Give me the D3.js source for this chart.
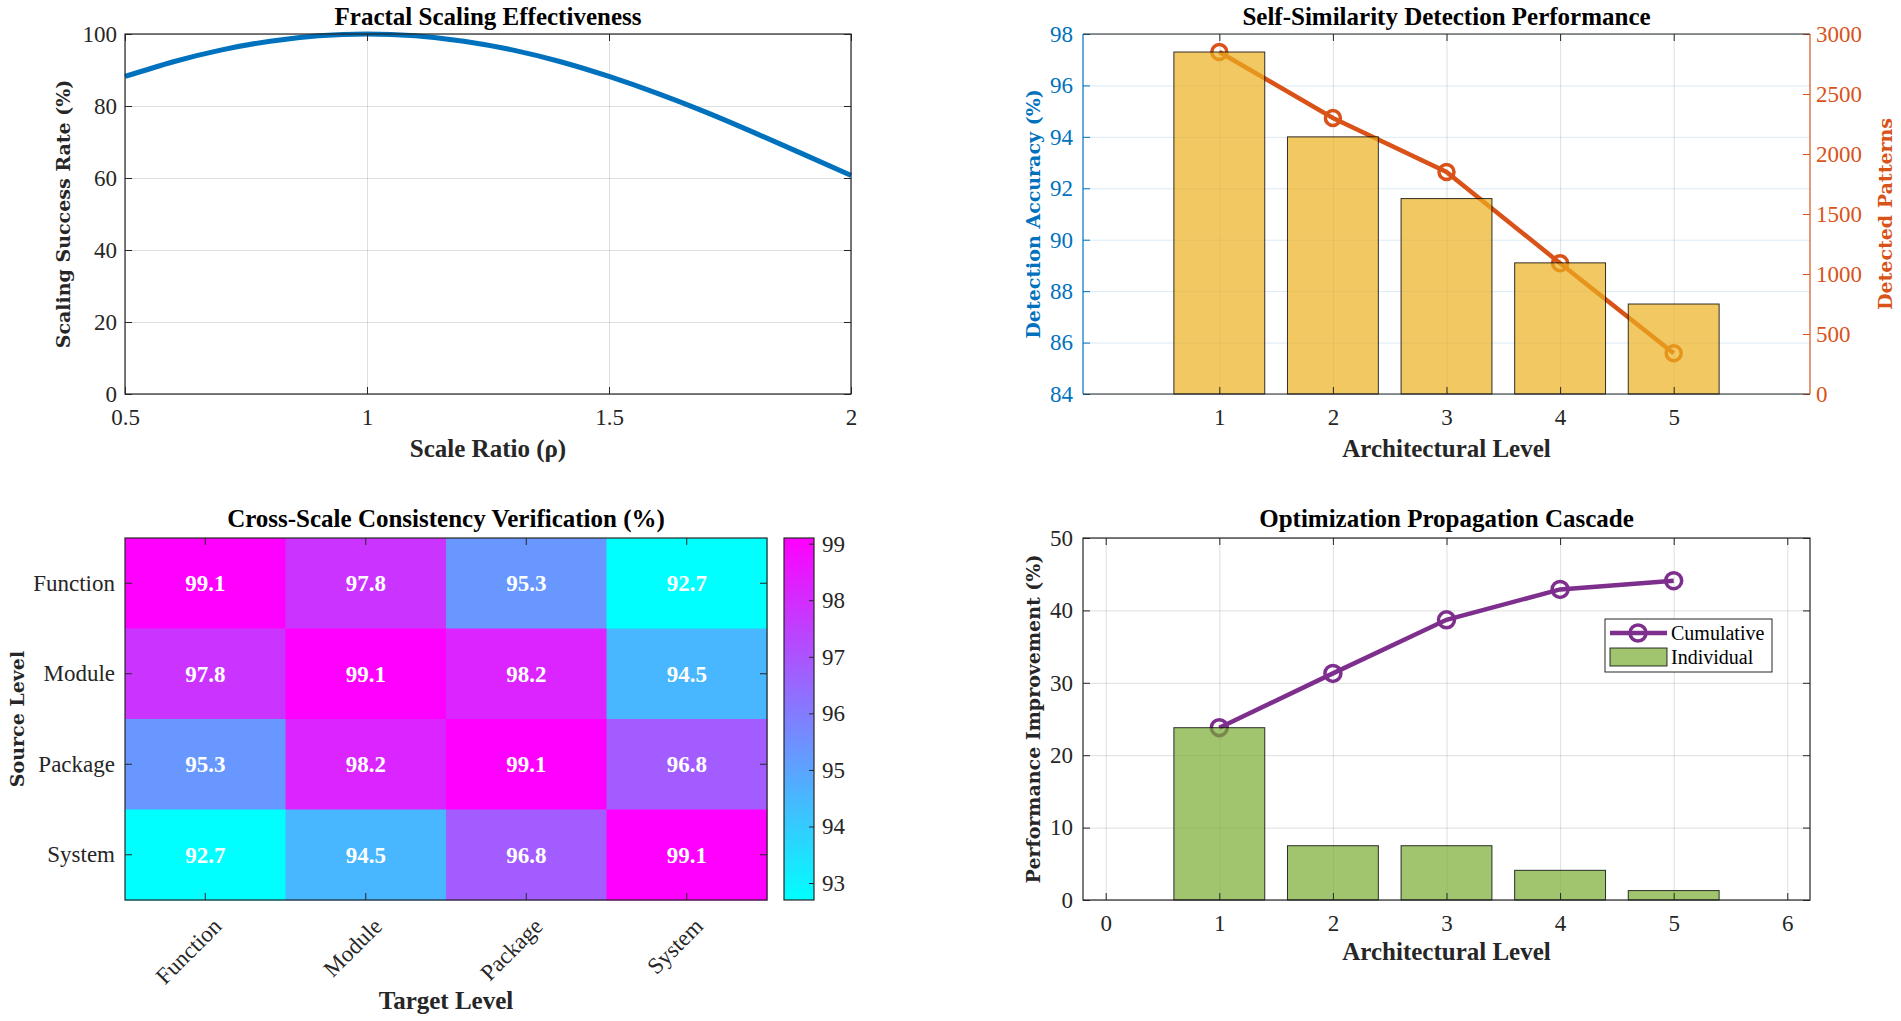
<!DOCTYPE html>
<html>
<head>
<meta charset="utf-8">
<script src="https://cdn.jsdelivr.net/npm/d3@7"></script>
<style>
body { margin: 0; background: #fff; }
</style>
</head>
<body>
<div id="canvas"></div>
<script>
// data
const scaleRatio = [0.5, 0.6, 0.7, 0.8, 0.9, 1.0, 1.1, 1.2, 1.3, 1.4, 1.5, 1.6, 1.7, 1.8, 1.9, 2.0];
const scalingSuccess = [88.2, 92.3, 95.6, 98.0, 99.5, 100, 99.5, 98.0, 95.6, 92.3, 88.2, 83.5, 78.3, 72.6, 66.7, 60.7];
const ratioTicks = [0.5, 1, 1.5, 2];
const successTicks = [0, 20, 40, 60, 80, 100];

const levels = [1, 2, 3, 4, 5];
const detectionAccuracy = [97.3, 94.0, 91.6, 89.1, 87.5];
const detectedPatterns = [2850, 2300, 1850, 1090, 340];
const accuracyTicks = [84, 86, 88, 90, 92, 94, 96, 98];
const patternTicks = [0, 500, 1000, 1500, 2000, 2500, 3000];

const scaleNames = ["Function", "Module", "Package", "System"];
const consistency = [
    [99.1, 97.8, 95.3, 92.7],
    [97.8, 99.1, 98.2, 94.5],
    [95.3, 98.2, 99.1, 96.8],
    [92.7, 94.5, 96.8, 99.1]
];
const colorbarTicks = [93, 94, 95, 96, 97, 98, 99];

const individualGain = [23.8, 7.5, 7.5, 4.1, 1.3];
const cumulativeGain = [23.8, 31.3, 38.7, 42.9, 44.1];
const cascadeXTicks = [0, 1, 2, 3, 4, 5, 6];
const improvementTicks = [0, 10, 20, 30, 40, 50];

const W = 1901, H = 1021;
const axisCol = '#262626';
const serif = 'Liberation Serif, Times New Roman, serif';
const wide = 'DejaVu Serif, serif';

const svg = d3.select('#canvas').append('svg')
    .attr('width', W)
    .attr('height', H)
    .style('background', '#fff');

function cleanAxis(sel, color, showText) {
    sel.attr('font-family', serif).attr('font-size', 23);
    sel.select('.domain').remove();
    sel.selectAll('.tick line').attr('stroke', color);
    sel.selectAll('.tick text').attr('fill', color);
    if (!showText) sel.selectAll('.tick text').remove();
}

function grid(g, p, xs, xt, ys, yt, colX, colY) {
    if (xs) {
        g.append('g').attr('transform', `translate(0,${p.y1})`)
            .call(d3.axisBottom(xs).tickValues(xt).tickSize(-p.h).tickFormat(''))
            .call(s => { s.select('.domain').remove(); s.selectAll('line').attr('stroke', colX).attr('stroke-opacity', 0.15); });
    }
    if (ys) {
        g.append('g').attr('transform', `translate(${p.x0},0)`)
            .call(d3.axisLeft(ys).tickValues(yt).tickSize(-p.w).tickFormat(''))
            .call(s => { s.select('.domain').remove(); s.selectAll('line').attr('stroke', colY).attr('stroke-opacity', 0.15); });
    }
}

function frameAxes(g, p, xs, xt, ys, yt, xFmt, yFmt, xPad, yPad) {
    g.append('g').attr('transform', `translate(0,${p.y1})`)
        .call(d3.axisBottom(xs).tickValues(xt).tickSize(-7).tickPadding(xPad).tickFormat(xFmt))
        .call(s => cleanAxis(s, axisCol, true));
    g.append('g').attr('transform', `translate(0,${p.y0})`)
        .call(d3.axisTop(xs).tickValues(xt).tickSize(-7))
        .call(s => cleanAxis(s, axisCol, false));
    if (ys) {
        g.append('g').attr('transform', `translate(${p.x0},0)`)
            .call(d3.axisLeft(ys).tickValues(yt).tickSize(-7).tickPadding(yPad).tickFormat(yFmt))
            .call(s => cleanAxis(s, axisCol, true));
        g.append('g').attr('transform', `translate(${p.x1},0)`)
            .call(d3.axisRight(ys).tickValues(yt).tickSize(-7))
            .call(s => cleanAxis(s, axisCol, false));
    }
    g.append('rect')
        .attr('x', p.x0).attr('y', p.y0)
        .attr('width', p.w).attr('height', p.h)
        .attr('fill', 'none').attr('stroke', axisCol).attr('stroke-width', 1.2);
}

function title(g, p, txt, dy) {
    g.append('text')
        .attr('x', (p.x0 + p.x1) / 2).attr('y', p.y0 - dy)
        .attr('text-anchor', 'middle')
        .attr('font-family', serif).attr('font-weight', 'bold').attr('font-size', 25)
        .attr('fill', '#000')
        .text(txt);
}

function xLabel(g, p, txt, dy) {
    g.append('text')
        .attr('x', (p.x0 + p.x1) / 2).attr('y', p.y1 + dy)
        .attr('text-anchor', 'middle')
        .attr('font-family', serif).attr('font-weight', 'bold').attr('font-size', 25)
        .attr('fill', '#262626')
        .text(txt);
}

function yLabel(g, p, txt, xPos, color) {
    g.append('text')
        .attr('transform', `translate(${xPos},${(p.y0 + p.y1) / 2}) rotate(-90)`)
        .attr('text-anchor', 'middle')
        .attr('dy', '0.35em')
        .attr('font-family', wide).attr('font-weight', 'bold').attr('font-size', 19)
        .attr('fill', color)
        .text(txt);
}

const fmt = d3.format('');

// ---------- panel 1: fractal scaling ----------
{
    const p = { x0: 125, x1: 851, y0: 34, y1: 394 };
    p.w = p.x1 - p.x0; p.h = p.y1 - p.y0;
    const g = svg.append('g');
    const x = d3.scaleLinear().domain([0.5, 2]).range([p.x0, p.x1]);
    const y = d3.scaleLinear().domain([0, 100]).range([p.y1, p.y0]);

    grid(g, p, x, ratioTicks, y, successTicks, axisCol, axisCol);

    const line = d3.line()
        .x((d, i) => x(scaleRatio[i]))
        .y(d => y(d))
        .curve(d3.curveNatural);
    g.append('path')
        .datum(scalingSuccess)
        .attr('d', line)
        .attr('fill', 'none')
        .attr('stroke', '#0072BD')
        .attr('stroke-width', 5);

    frameAxes(g, p, x, ratioTicks, y, successTicks, fmt, fmt, 15, 8);
    title(g, p, 'Fractal Scaling Effectiveness', 9);
    xLabel(g, p, 'Scale Ratio (ρ)', 63);
    yLabel(g, p, 'Scaling Success Rate (%)', 63, '#262626');
}

// ---------- panel 2: self-similarity ----------
{
    const p = { x0: 1083, x1: 1810, y0: 34, y1: 394 };
    p.w = p.x1 - p.x0; p.h = p.y1 - p.y0;
    const g = svg.append('g');
    const x = d3.scaleLinear().domain([-0.2, 6.2]).range([p.x0, p.x1]);
    const yL = d3.scaleLinear().domain([84, 98]).range([p.y1, p.y0]);
    const yR = d3.scaleLinear().domain([0, 3000]).range([p.y1, p.y0]);
    const blue = '#0072BD', orange = '#D95319';

    grid(g, p, x, levels, yL, accuracyTicks, axisCol, blue);

    const line = d3.line()
        .x((d, i) => x(levels[i]))
        .y(d => yR(d));
    g.append('path')
        .datum(detectedPatterns)
        .attr('d', line)
        .attr('fill', 'none')
        .attr('stroke', orange)
        .attr('stroke-width', 4.5);
    g.selectAll('circle.pat').data(detectedPatterns)
        .enter().append('circle')
        .attr('class', 'pat')
        .attr('cx', (d, i) => x(levels[i]))
        .attr('cy', d => yR(d))
        .attr('r', 7.5)
        .attr('fill', 'none')
        .attr('stroke', orange)
        .attr('stroke-width', 3.5);

    const bw = x(0.8) - x(0);
    g.selectAll('rect.acc').data(detectionAccuracy)
        .enter().append('rect')
        .attr('class', 'acc')
        .attr('x', (d, i) => x(levels[i]) - bw / 2)
        .attr('width', bw)
        .attr('y', d => yL(d))
        .attr('height', d => yL(84) - yL(d))
        .attr('fill', '#EDB120')
        .attr('fill-opacity', 0.7)
        .attr('stroke', '#000')
        .attr('stroke-opacity', 0.8)
        .attr('stroke-width', 1);

    g.append('g').attr('transform', `translate(0,${p.y1})`)
        .call(d3.axisBottom(x).tickValues(levels).tickSize(-7).tickPadding(15).tickFormat(fmt))
        .call(s => cleanAxis(s, axisCol, true));
    g.append('g').attr('transform', `translate(0,${p.y0})`)
        .call(d3.axisTop(x).tickValues(levels).tickSize(-7))
        .call(s => cleanAxis(s, axisCol, false));
    g.append('g').attr('transform', `translate(${p.x0},0)`)
        .call(d3.axisLeft(yL).tickValues(accuracyTicks).tickSize(-7).tickPadding(10).tickFormat(fmt))
        .call(s => cleanAxis(s, blue, true));
    g.append('g').attr('transform', `translate(${p.x1},0)`)
        .call(d3.axisRight(yR).tickValues(patternTicks).tickSize(-7).tickPadding(6).tickFormat(fmt))
        .call(s => cleanAxis(s, orange, true));

    g.append('line').attr('x1', p.x0).attr('x2', p.x1).attr('y1', p.y0).attr('y2', p.y0).attr('stroke', axisCol).attr('stroke-width', 1.2);
    g.append('line').attr('x1', p.x0).attr('x2', p.x1).attr('y1', p.y1).attr('y2', p.y1).attr('stroke', axisCol).attr('stroke-width', 1.2);
    g.append('line').attr('x1', p.x0).attr('x2', p.x0).attr('y1', p.y0).attr('y2', p.y1).attr('stroke', blue).attr('stroke-width', 1.2);
    g.append('line').attr('x1', p.x1).attr('x2', p.x1).attr('y1', p.y0).attr('y2', p.y1).attr('stroke', orange).attr('stroke-width', 1.2);

    title(g, p, 'Self-Similarity Detection Performance', 9);
    xLabel(g, p, 'Architectural Level', 63);
    yLabel(g, p, 'Detection Accuracy (%)', p.x0 - 50, blue);
    yLabel(g, p, 'Detected Patterns', p.x1 + 75, orange);
}

// ---------- panel 3: heatmap ----------
{
    const p = { x0: 125, x1: 767, y0: 538, y1: 900 };
    p.w = p.x1 - p.x0; p.h = p.y1 - p.y0;
    const g = svg.append('g');
    const x = d3.scaleBand().domain(scaleNames).range([p.x0, p.x1]);
    const y = d3.scaleBand().domain(scaleNames).range([p.y0, p.y1]);
    const vmin = d3.min(consistency.flat()), vmax = d3.max(consistency.flat());
    const color = d3.scaleLinear().domain([vmin, vmax]).range(['#00ffff', '#ff00ff']);

    const cells = [];
    consistency.forEach((row, i) => row.forEach((v, j) => cells.push({ r: scaleNames[i], c: scaleNames[j], v: v })));

    g.selectAll('rect.cell').data(cells)
        .enter().append('rect')
        .attr('class', 'cell')
        .attr('x', d => x(d.c))
        .attr('y', d => y(d.r))
        .attr('width', x.bandwidth() + 0.5)
        .attr('height', y.bandwidth() + 0.5)
        .attr('fill', d => color(d.v));

    g.selectAll('text.val').data(cells)
        .enter().append('text')
        .attr('class', 'val')
        .attr('x', d => x(d.c) + x.bandwidth() / 2)
        .attr('y', d => y(d.r) + y.bandwidth() / 2)
        .attr('dy', '0.35em')
        .attr('text-anchor', 'middle')
        .attr('font-family', serif).attr('font-weight', 'bold').attr('font-size', 23)
        .attr('fill', '#fff')
        .text(d => d.v.toFixed(1));

    const xb = g.append('g').attr('transform', `translate(0,${p.y1})`)
        .call(d3.axisBottom(x).tickSize(-7))
        .call(s => cleanAxis(s, axisCol, true));
    xb.selectAll('.tick text')
        .attr('y', 0).attr('x', 0).attr('dy', '0.35em')
        .attr('text-anchor', 'end')
        .attr('transform', 'translate(12,22) rotate(-45)');
    g.append('g').attr('transform', `translate(0,${p.y0})`)
        .call(d3.axisTop(x).tickSize(-7))
        .call(s => cleanAxis(s, axisCol, false));
    g.append('g').attr('transform', `translate(${p.x0},0)`)
        .call(d3.axisLeft(y).tickSize(-7).tickPadding(10))
        .call(s => cleanAxis(s, axisCol, true));
    g.append('g').attr('transform', `translate(${p.x1},0)`)
        .call(d3.axisRight(y).tickSize(-7))
        .call(s => cleanAxis(s, axisCol, false));
    g.append('rect')
        .attr('x', p.x0).attr('y', p.y0).attr('width', p.w).attr('height', p.h)
        .attr('fill', 'none').attr('stroke', axisCol).attr('stroke-width', 1.2);

    // colorbar
    const cb = { x0: 784, x1: 814, y0: 538, y1: 900 };
    const cy = d3.scaleLinear().domain([vmin, vmax]).range([cb.y1, cb.y0]);
    const grad = svg.append('defs').append('linearGradient')
        .attr('id', 'coolGrad').attr('x1', 0).attr('y1', 1).attr('x2', 0).attr('y2', 0);
    grad.append('stop').attr('offset', '0%').attr('stop-color', color(vmin));
    grad.append('stop').attr('offset', '100%').attr('stop-color', color(vmax));
    g.append('rect')
        .attr('x', cb.x0).attr('y', cb.y0).attr('width', cb.x1 - cb.x0).attr('height', cb.y1 - cb.y0)
        .attr('fill', 'url(#coolGrad)');
    g.append('g').attr('transform', `translate(${cb.x1},0)`)
        .call(d3.axisRight(cy).tickValues(colorbarTicks).tickSize(-5).tickPadding(8).tickFormat(fmt))
        .call(s => cleanAxis(s, axisCol, true));
    g.append('rect')
        .attr('x', cb.x0).attr('y', cb.y0).attr('width', cb.x1 - cb.x0).attr('height', cb.y1 - cb.y0)
        .attr('fill', 'none').attr('stroke', axisCol).attr('stroke-width', 1.2);

    title(g, p, 'Cross-Scale Consistency Verification (%)', 11);
    xLabel(g, p, 'Target Level', 109);
    yLabel(g, p, 'Source Level', 17, '#262626');
}

// ---------- panel 4: optimization cascade ----------
{
    const p = { x0: 1083, x1: 1810, y0: 538, y1: 900 };
    p.w = p.x1 - p.x0; p.h = p.y1 - p.y0;
    const g = svg.append('g');
    const x = d3.scaleLinear().domain([-0.2, 6.2]).range([p.x0, p.x1]);
    const y = d3.scaleLinear().domain([0, 50]).range([p.y1, p.y0]);
    const purple = '#7E2F8E', green = '#77AC30';

    grid(g, p, x, cascadeXTicks, y, improvementTicks, axisCol, axisCol);

    const line = d3.line()
        .x((d, i) => x(levels[i]))
        .y(d => y(d));
    g.append('path')
        .datum(cumulativeGain)
        .attr('d', line)
        .attr('fill', 'none')
        .attr('stroke', purple)
        .attr('stroke-width', 4.5);
    g.selectAll('circle.cum').data(cumulativeGain)
        .enter().append('circle')
        .attr('class', 'cum')
        .attr('cx', (d, i) => x(levels[i]))
        .attr('cy', d => y(d))
        .attr('r', 8)
        .attr('fill', 'none')
        .attr('stroke', purple)
        .attr('stroke-width', 3.5);

    const bw = x(0.8) - x(0);
    g.selectAll('rect.ind').data(individualGain)
        .enter().append('rect')
        .attr('class', 'ind')
        .attr('x', (d, i) => x(levels[i]) - bw / 2)
        .attr('width', bw)
        .attr('y', d => y(d))
        .attr('height', d => y(0) - y(d))
        .attr('fill', green)
        .attr('fill-opacity', 0.7)
        .attr('stroke', '#000')
        .attr('stroke-opacity', 0.8)
        .attr('stroke-width', 1);

    frameAxes(g, p, x, cascadeXTicks, y, improvementTicks, fmt, fmt, 15, 10);

    // legend
    const lg = g.append('g');
    lg.append('rect')
        .attr('x', 1605).attr('y', 619).attr('width', 167).attr('height', 53)
        .attr('fill', '#fff').attr('stroke', axisCol).attr('stroke-width', 1);
    lg.append('line')
        .attr('x1', 1610).attr('x2', 1667).attr('y1', 633).attr('y2', 633)
        .attr('stroke', purple).attr('stroke-width', 4.5);
    lg.append('circle')
        .attr('cx', 1638).attr('cy', 633).attr('r', 8)
        .attr('fill', 'none').attr('stroke', purple).attr('stroke-width', 3.5);
    lg.append('rect')
        .attr('x', 1610).attr('y', 648).attr('width', 57).attr('height', 18)
        .attr('fill', green).attr('fill-opacity', 0.7)
        .attr('stroke', '#000').attr('stroke-opacity', 0.8);
    lg.selectAll('text.leg').data(['Cumulative', 'Individual'])
        .enter().append('text')
        .attr('class', 'leg')
        .attr('x', 1671)
        .attr('y', (d, i) => 633 + i * 24)
        .attr('dy', '0.35em')
        .attr('font-family', serif).attr('font-size', 20)
        .attr('fill', '#000')
        .text(d => d);

    title(g, p, 'Optimization Propagation Cascade', 11);
    xLabel(g, p, 'Architectural Level', 60);
    yLabel(g, p, 'Performance Improvement (%)', p.x0 - 50, '#262626');
}
</script>
</body>
</html>
